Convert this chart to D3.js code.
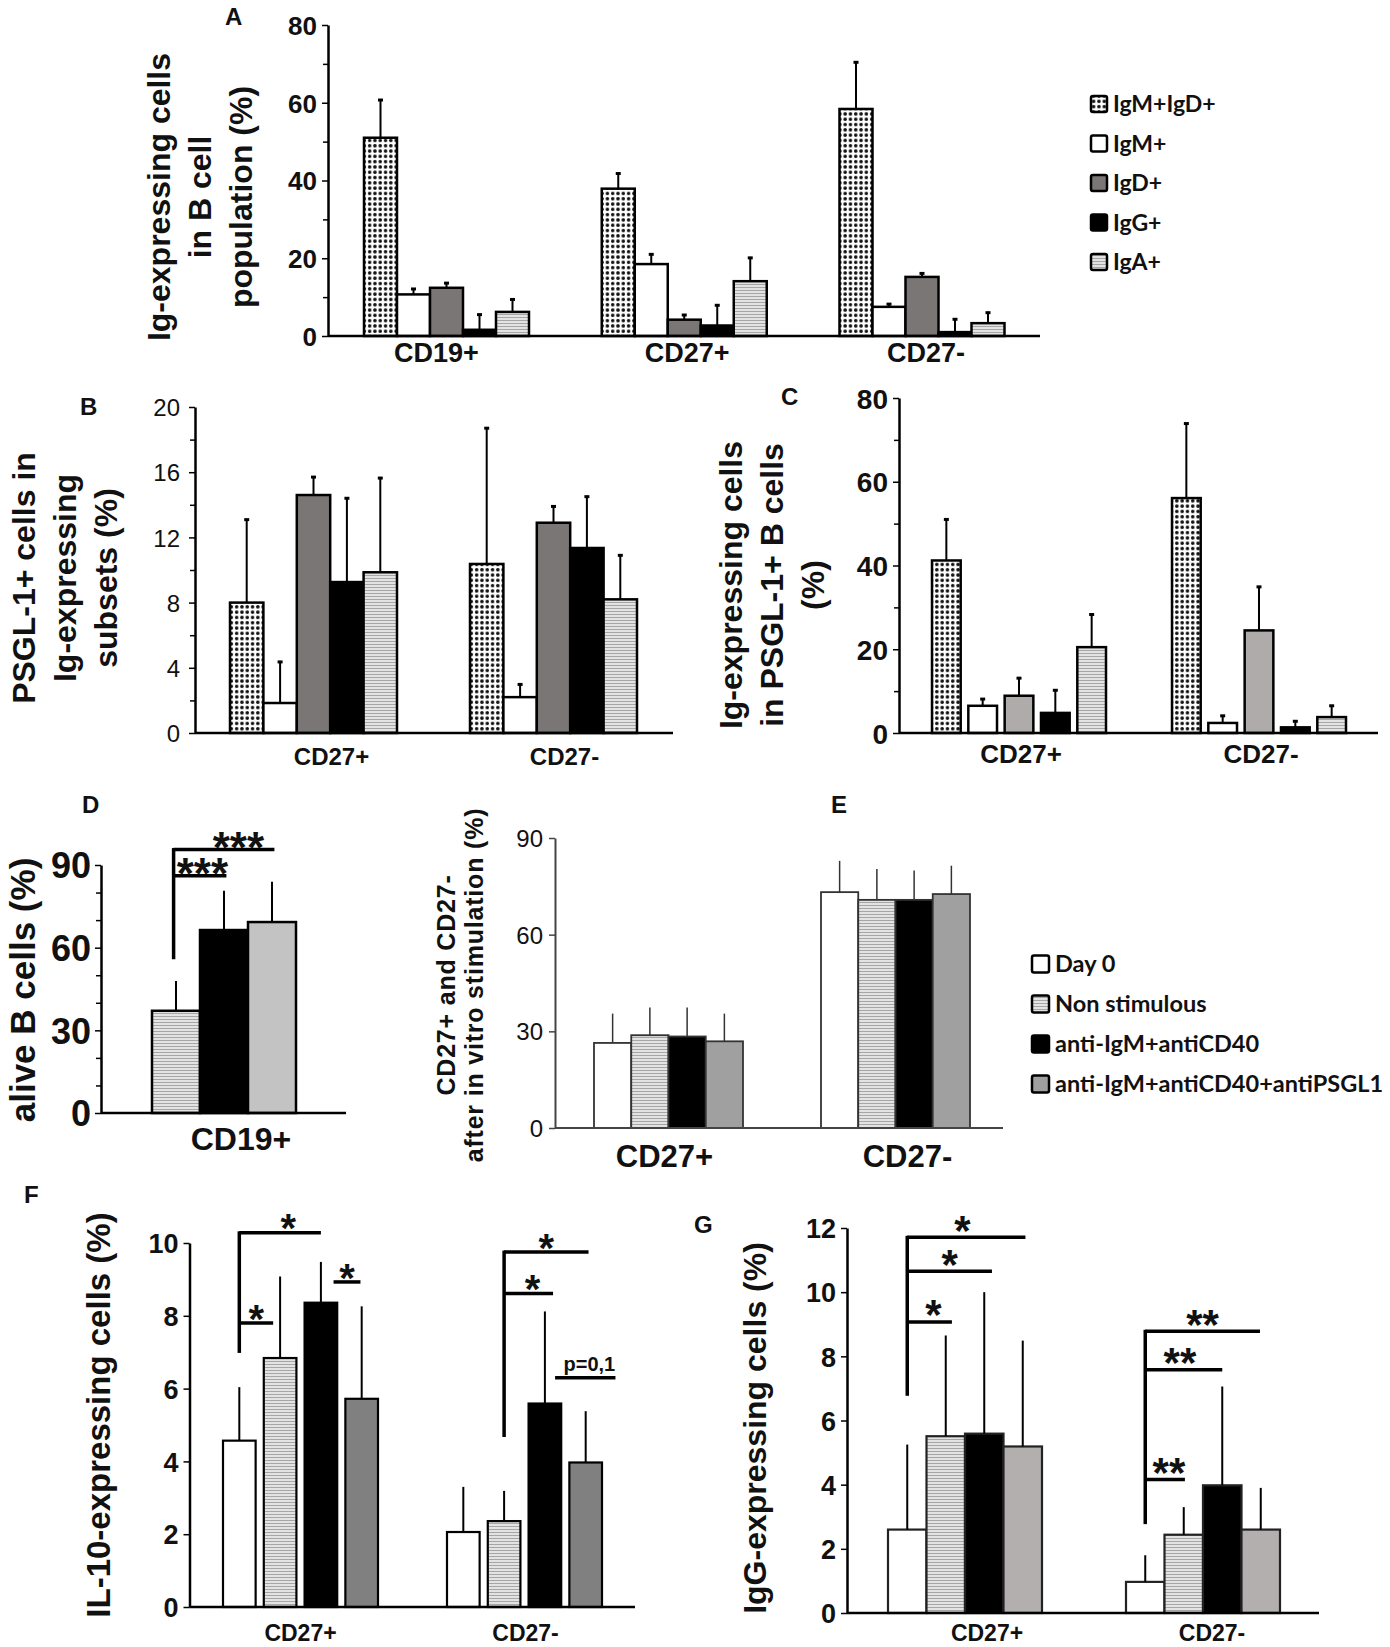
<!DOCTYPE html>
<html>
<head>
<meta charset="utf-8">
<script src="https://cdn.jsdelivr.net/npm/d3@7"></script>
<style>
body { margin: 0; background: #fff; }
text { font-family: "Liberation Sans", Arial, sans-serif; font-weight: bold; fill: #111; }
.legend text { font-family: Lato, "Open Sans", sans-serif; font-weight: bold; }
.narrow { font-family: "Liberation Sans Narrow", "Arial Narrow", "Liberation Sans", sans-serif; }
</style>
</head>
<body>
<svg id="fig"></svg>
<script>
//////////////////////////////////////////////////////////////////
//////////////////////////// Data ////////////////////////////////
//////////////////////////////////////////////////////////////////

var igSubsets = ["IgM+IgD+", "IgM+", "IgD+", "IgG+", "IgA+"];
var stimConditions = ["Day 0", "Non stimulous", "anti-IgM+antiCD40", "anti-IgM+antiCD40+antiPSGL1"];

// A - Ig-expressing cells in B cell population (%)
var groupsA = ["CD19+", "CD27+", "CD27-"];
var meanA = [[51.0, 10.7, 12.4, 1.6, 6.2], [37.9, 18.5, 4.2, 2.7, 14.1], [58.4, 7.5, 15.2, 1.0, 3.3]];
var sdA = [[9.7, 1.4, 1.2, 3.9, 3.2], [3.9, 2.5, 1.2, 5.2, 6.0], [12.0, 0.7, 0.9, 3.3, 2.7]];
var ticksA = [0, 20, 40, 60, 80];

// B - PSGL-1+ cells in Ig-expressing subsets (%)
var groupsB = ["CD27+", "CD27-"];
var meanB = [[8.0, 1.84, 14.6, 9.26, 9.86], [10.37, 2.2, 12.9, 11.35, 8.2]];
var sdB = [[5.09, 2.52, 1.1, 5.14, 5.78], [8.33, 0.78, 1.0, 3.15, 2.7]];
var ticksB = [0, 4, 8, 12, 16, 20];

// C - Ig-expressing cells in PSGL-1+ B cells (%)
var groupsC = ["CD27+", "CD27-"];
var meanC = [[41.2, 6.5, 8.9, 4.8, 20.5], [56.1, 2.4, 24.5, 1.35, 3.8]];
var sdC = [[9.8, 1.6, 4.2, 5.4, 7.8], [17.8, 1.7, 10.4, 1.45, 2.7]];
var ticksC = [0, 20, 40, 60, 80];

// D - alive B cells (%)
var groupsD = ["CD19+"];
var meanD = [[37.1, 66.4, 69.3]];
var sdD = [[10.8, 14.3, 14.6]];
var ticksD = [0, 30, 60, 90];

// E - CD27+ and CD27- after in vitro stimulation (%)
var groupsE = ["CD27+", "CD27-"];
var meanE = [[26.4, 28.8, 28.4, 26.9], [73.2, 70.8, 70.8, 72.6]];
var sdE = [[9.1, 8.6, 9.0, 8.6], [9.7, 9.6, 9.1, 8.8]];
var ticksE = [0, 30, 60, 90];

// F - IL-10-expressing cells (%)
var groupsF = ["CD27+", "CD27-"];
var meanF = [[4.57, 6.84, 8.36, 5.72], [2.06, 2.36, 5.59, 3.97]];
var sdF = [[1.47, 2.24, 1.12, 2.54], [1.24, 0.83, 2.53, 1.41]];
var ticksF = [0, 2, 4, 6, 8, 10];

// G - IgG-expressing cells (%)
var groupsG = ["CD27+", "CD27-"];
var meanG = [[2.6, 5.51, 5.59, 5.19], [0.97, 2.44, 3.98, 2.6]];
var sdG = [[2.65, 3.14, 4.41, 3.3], [0.83, 0.86, 3.08, 1.3]];
var ticksG = [0, 2, 4, 6, 8, 10, 12];

// significance marks: stems [group, bar index, from, to], bars [group, from index, to index, value, label, label shift in bars]
var stemsD = [[0, -0.05, 55.8, 95.6]];
var sigD = [[0, -0.05, 2.05, 95.6, "***", 0.3], [0, -0.05, 1.05, 86.1, "***", 0.05]];
var stemsF = [[0, 0, 6.98, 10.28], [1, 1, 4.67, 9.75]];
var sigF = [[0, 0, 2.0, 10.28, "*", 0.2], [0, 0, 0.83, 7.8, "*", 0], [0, 2.31, 2.97, 8.93, "*", 0],
            [1, 1, 3.07, 9.75, "*", 0], [1, 1, 2.2, 8.61, "*", 0.1], [1, 2.25, 3.73, 6.3, "p=0,1", 0.1]];
var stemsG = [[0, 0, 6.77, 11.71], [1, 0, 2.77, 8.78]];
var sigG = [[0, 0, 3.07, 11.71, "*", -0.1], [0, 0, 2.2, 10.65, "*", 0], [0, 0, 1.16, 9.07, "*", 0.1],
            [1, 0, 2.98, 8.78, "**", 0], [1, 0, 2.0, 7.58, "**", -0.1], [1, 0, 1.03, 4.16, "**", 0.1]];

//////////////////////////////////////////////////////////////////
//////////////////////// SVG and patterns ////////////////////////
//////////////////////////////////////////////////////////////////

var svg = d3.select("#fig")
    .attr("width", 1390)
    .attr("height", 1647);

svg.append("rect").attr("width", 1390).attr("height", 1647).attr("fill", "#fff");

var defs = svg.append("defs");

//dotted fill for IgM+IgD+
var pDots = defs.append("pattern")
    .attr("id", "dots")
    .attr("patternUnits", "userSpaceOnUse")
    .attr("width", 5.3).attr("height", 5.3);
pDots.append("rect").attr("width", 5.3).attr("height", 5.3).attr("fill", "#fff");
pDots.append("circle").attr("cx", 2.65).attr("cy", 2.65).attr("r", 1.8).attr("fill", "#111");

//horizontal stripes
var pStripes = defs.append("pattern")
    .attr("id", "stripes")
    .attr("patternUnits", "userSpaceOnUse")
    .attr("width", 4).attr("height", 3);
pStripes.append("rect").attr("width", 4).attr("height", 3).attr("fill", "#e3e3e3");
pStripes.append("rect").attr("y", 2).attr("width", 4).attr("height", 1).attr("fill", "#a6a6a6");

var fillsIg = ["url(#dots)", "#fff", "#7b7676", "#000", "url(#stripes)"];
var fillsIgC = ["url(#dots)", "#fff", "#b0abab", "#000", "url(#stripes)"];

//////////////////////////////////////////////////////////////////
//////////////////////// Generic panel ///////////////////////////
//////////////////////////////////////////////////////////////////

function drawPanel(c) {
    var g = svg.append("g");

    var y = d3.scaleLinear().domain([0, c.max]).range([c.yBot, c.yTop]);
    var gx = d3.scalePoint().domain(c.groups).range(c.centers);
    var sx = d3.scaleBand().domain(c.series).range([-c.span / 2, c.span / 2]).paddingInner(c.pad || 0);

    function xAt(gi, idx) {
        return gx(c.groups[gi]) + sx(c.series[0]) + sx.bandwidth() / 2 + idx * sx.step();
    }

    //bars
    c.groups.forEach(function(grp, gi) {
        var bg = g.append("g").attr("transform", "translate(" + gx(grp) + ",0)");
        bg.selectAll("rect")
            .data(c.mean[gi])
            .enter().append("rect")
            .attr("x", function(d, i) { return sx(c.series[i]); })
            .attr("y", function(d) { return y(d); })
            .attr("width", sx.bandwidth())
            .attr("height", function(d) { return y(0) - y(d); })
            .attr("fill", function(d, i) { return c.fills[i]; })
            .attr("stroke", c.barStroke || "#000")
            .attr("stroke-width", c.barStrokeW || 2.5);

        //one sided error bars
        bg.selectAll("line.err")
            .data(c.mean[gi])
            .enter().append("line")
            .attr("class", "err")
            .attr("x1", function(d, i) { return sx(c.series[i]) + sx.bandwidth() / 2; })
            .attr("x2", function(d, i) { return sx(c.series[i]) + sx.bandwidth() / 2; })
            .attr("y1", function(d) { return y(d); })
            .attr("y2", function(d, i) { return y(d + c.sd[gi][i]); })
            .attr("stroke", c.errColor || "#000")
            .attr("stroke-width", c.errW || 2);

        if (c.cap) {
            bg.selectAll("line.cap")
                .data(c.mean[gi])
                .enter().append("line")
                .attr("class", "cap")
                .attr("x1", function(d, i) { return sx(c.series[i]) + sx.bandwidth() / 2 - c.cap; })
                .attr("x2", function(d, i) { return sx(c.series[i]) + sx.bandwidth() / 2 + c.cap; })
                .attr("y1", function(d, i) { return y(d + c.sd[gi][i]); })
                .attr("y2", function(d, i) { return y(d + c.sd[gi][i]); })
                .attr("stroke", "#000")
                .attr("stroke-width", 3);
        }
    });

    //y axis
    var axisColor = c.axisColor || "#000";
    if (c.minor) {
        var ma = g.append("g")
            .attr("transform", "translate(" + c.x0 + ",0)")
            .call(d3.axisLeft(y).tickValues(c.minor).tickSize(5).tickSizeOuter(0).tickFormat(""));
        ma.select(".domain").remove();
        ma.selectAll("line").attr("stroke", axisColor).attr("stroke-width", 1.5);
    }
    var ag = g.append("g")
        .attr("transform", "translate(" + c.x0 + ",0)")
        .call(d3.axisLeft(y).tickValues(c.ticks).tickSize(6).tickSizeOuter(0).tickPadding(c.tickPad || 5));
    ag.select(".domain").attr("stroke", axisColor).attr("stroke-width", c.axisW || 2.5);
    ag.selectAll(".tick line").attr("stroke", axisColor).attr("stroke-width", 1.5);
    ag.selectAll(".tick text")
        .attr("class", c.tickNarrow ? "narrow" : null)
        .style("font-size", c.tickSize + "px")
        .style("font-weight", c.tickWeight || "bold")
        .attr("fill", "#111")
        .attr("dy", "0.36em");

    //x axis line
    g.append("line")
        .attr("x1", c.x0).attr("x2", c.x1)
        .attr("y1", y(0)).attr("y2", y(0))
        .attr("stroke", axisColor)
        .attr("stroke-width", c.axisW || 2.5);

    //group labels
    g.selectAll("text.glab")
        .data(c.groups)
        .enter().append("text")
        .attr("class", c.labelNarrow ? "glab narrow" : "glab")
        .attr("x", function(d, i) { return gx(d) + c.labelDx[i]; })
        .attr("y", c.labelY)
        .attr("text-anchor", "middle")
        .style("font-size", c.labelSize + "px")
        .text(function(d) { return d; });

    //y title
    c.title.lines.forEach(function(t, i) {
        g.append("text")
            .attr("transform", "translate(" + c.title.xs[i] + "," + c.title.cy + ") rotate(-90)")
            .attr("text-anchor", "middle")
            .style("font-size", c.title.size + "px")
            .style("letter-spacing", (c.title.spacing || 0) + "px")
            .text(t);
    });

    //significance brackets
    (c.stems || []).forEach(function(s) {
        g.append("line")
            .attr("x1", xAt(s[0], s[1])).attr("x2", xAt(s[0], s[1]))
            .attr("y1", y(s[2])).attr("y2", y(s[3]) - 1.5)
            .attr("stroke", "#000").attr("stroke-width", 3.5);
    });
    (c.sig || []).forEach(function(s) {
        var xa = xAt(s[0], s[1]), xb = xAt(s[0], s[2]);
        g.append("line")
            .attr("x1", xa).attr("x2", xb)
            .attr("y1", y(s[3])).attr("y2", y(s[3]))
            .attr("stroke", "#000").attr("stroke-width", 3.5);
        var star = s[4].indexOf("*") === 0;
        g.append("text")
            .attr("x", xAt(s[0], (s[1] + s[2]) / 2 + (s[5] || 0)))
            .attr("y", star ? y(s[3]) - c.starGap + c.starSize * 0.39 : y(s[3]) - 7)
            .attr("text-anchor", "middle")
            .style("font-size", (star ? c.starSize : 20) + "px")
            .text(s[4]);
    });
}

//////////////////////////////////////////////////////////////////
//////////////////////////// Panels //////////////////////////////
//////////////////////////////////////////////////////////////////

drawPanel({
    groups: groupsA, series: igSubsets, fills: fillsIg, mean: meanA, sd: sdA,
    max: 80, ticks: ticksA, minor: [10, 30, 50, 70], tickSize: 26,
    x0: 328, x1: 1040, yTop: 25, yBot: 336,
    centers: [446.5, 922], span: 165, cap: 2.5,
    labelY: 362, labelSize: 27, labelDx: [-10, 3, 4],
    title: { lines: ["Ig-expressing cells", "in B cell", "population (%)"], xs: [170, 211, 252], cy: 197, size: 32 }
});

drawPanel({
    groups: groupsB, series: igSubsets, fills: fillsIg, mean: meanB, sd: sdB,
    max: 20, ticks: ticksB, minor: [2, 6, 10, 14, 18], tickSize: 24, tickWeight: "normal", tickPad: 9,
    x0: 195, x1: 673, yTop: 407, yBot: 733,
    centers: [313.5, 553.5], span: 167, cap: 2.5,
    labelY: 765, labelSize: 24, labelDx: [18, 11],
    title: { lines: ["PSGL-1+ cells in", "Ig-expressing", "subsets (%)"], xs: [35, 76, 117], cy: 578, size: 32 }
});

drawPanel({
    groups: groupsC, series: igSubsets, fills: fillsIgC, mean: meanC, sd: sdC,
    max: 80, ticks: ticksC, minor: [10, 30, 50, 70], tickSize: 28,
    x0: 899, x1: 1378, yTop: 398, yBot: 733,
    centers: [1019, 1259], span: 174, pad: 0.21, cap: 2.5,
    labelY: 763, labelSize: 26, labelDx: [2, 2],
    title: { lines: ["Ig-expressing cells", "in PSGL-1+ B cells", "(%)"], xs: [742, 783, 824], cy: 585, size: 32 }
});

drawPanel({
    groups: groupsD, series: stimConditions.slice(1), fills: ["url(#stripes)", "#000", "#c3c3c3"],
    mean: meanD, sd: sdD,
    max: 90, ticks: ticksD, minor: [10, 20, 40, 50, 70, 80], tickSize: 36, tickPad: 4,
    x0: 101, x1: 346, yTop: 865, yBot: 1113,
    centers: [224, 224], span: 144,
    labelY: 1150, labelSize: 32, labelDx: [17],
    title: { lines: ["alive B cells (%)"], xs: [35], cy: 990, size: 35 },
    stems: stemsD, sig: sigD, starSize: 44, starGap: 4
});

drawPanel({
    groups: groupsE, series: stimConditions, fills: ["#fff", "url(#stripes)", "#000", "#a0a0a0"],
    mean: meanE, sd: sdE, barStroke: "#333", barStrokeW: 1.8, errW: 1.5, errColor: "#333",
    max: 90, ticks: ticksE, tickSize: 24, tickWeight: "normal", tickNarrow: true, tickPad: 6,
    axisColor: "#444", axisW: 2,
    x0: 555, x1: 1003, yTop: 838, yBot: 1128,
    centers: [668.5, 895.5], span: 149,
    labelY: 1167, labelSize: 31, labelDx: [-4, 12], labelNarrow: true,
    title: { lines: ["CD27+ and CD27-", "after in vitro stimulation (%)"], xs: [455, 483], cy: 985, size: 25, spacing: 0.8 }
});

drawPanel({
    groups: groupsF, series: stimConditions, fills: ["#fff", "url(#stripes)", "#000", "#808080"],
    mean: meanF, sd: sdF, barStrokeW: 2.2,
    max: 10, ticks: ticksF, tickSize: 27,
    x0: 189.5, x1: 635, yTop: 1243, yBot: 1607,
    centers: [300.5, 524.5], span: 155, pad: 0.2,
    labelY: 1641, labelSize: 23, labelDx: [0, 1],
    title: { lines: ["IL-10-expressing cells (%)"], xs: [110], cy: 1415, size: 33 },
    stems: stemsF, sig: sigF, starSize: 40, starGap: 6
});

drawPanel({
    groups: groupsG, series: stimConditions, fills: ["#fff", "url(#stripes)", "#000", "#b3afaf"],
    mean: meanG, sd: sdG, barStroke: "#222", barStrokeW: 2.2,
    max: 12, ticks: ticksG, tickSize: 27,
    x0: 847, x1: 1319, yTop: 1228, yBot: 1613,
    centers: [965, 1203], span: 154,
    labelY: 1641, labelSize: 23, labelDx: [22, 9],
    title: { lines: ["IgG-expressing cells (%)"], xs: [766], cy: 1428, size: 32 },
    stems: stemsG, sig: sigG, starSize: 42, starGap: 9
});

//////////////////////////////////////////////////////////////////
//////////////////////////// Legends /////////////////////////////
//////////////////////////////////////////////////////////////////

function drawLegend(items, fills, x, y0, dy, size, fontSize) {
    var lg = svg.append("g").attr("class", "legend");
    var row = lg.selectAll("g")
        .data(items)
        .enter().append("g")
        .attr("transform", function(d, i) { return "translate(" + x + "," + (y0 + i * dy) + ")"; });
    row.append("rect")
        .attr("x", 0).attr("y", -size / 2)
        .attr("width", size).attr("height", size)
        .attr("rx", 2)
        .attr("fill", function(d, i) { return fills[i]; })
        .attr("stroke", "#000")
        .attr("stroke-width", 2.5);
    row.append("text")
        .attr("x", size + 6)
        .attr("y", fontSize * 0.36)
        .style("font-size", fontSize + "px")
        .text(function(d) { return d; });
}

drawLegend(igSubsets, fillsIg, 1091, 104, 39.5, 16, 23);
drawLegend(stimConditions, ["#fff", "url(#stripes)", "#000", "#a0a0a0"], 1032, 964, 40, 17, 23.5);

//panel letters
var panelLetters = ["A", "B", "C", "D", "E", "F", "G"];
var letterPos = [[225, 25], [80, 415], [781, 405], [82, 813], [831, 813], [24, 1203], [694, 1233]];
svg.selectAll("text.letter")
    .data(panelLetters)
    .enter().append("text")
    .attr("class", "letter")
    .attr("x", function(d, i) { return letterPos[i][0]; })
    .attr("y", function(d, i) { return letterPos[i][1]; })
    .style("font-size", "24px")
    .text(function(d) { return d; });
</script>
</body>
</html>
